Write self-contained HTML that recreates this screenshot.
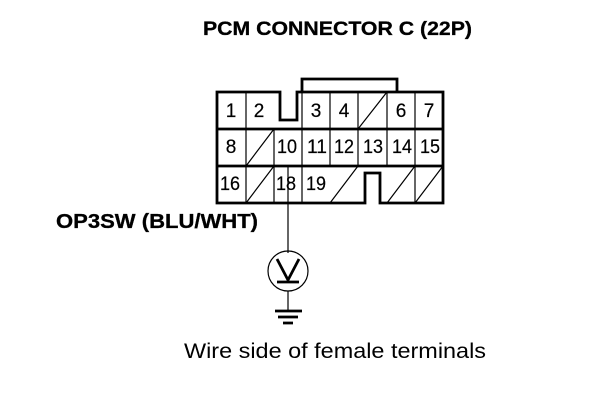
<!DOCTYPE html>
<html><head><meta charset="utf-8"><style>html,body{margin:0;padding:0;background:#fff}svg{display:block}</style></head>
<body><svg width="608" height="400" viewBox="0 0 608 400" xmlns="http://www.w3.org/2000/svg" font-family="'Liberation Sans',sans-serif" fill="#000">
<rect width="608" height="400" fill="#fff"/>
<g fill="none" stroke="#000" stroke-width="1.2">
<path d="M246 92V129M274 129V203M302 92V203M330 92V166M358 92V166M387 92V166M415 92V203M246 129V203" />
<path d="M246 166L274 129M246 203L274 166M358 129L387 92M330 203L358 166M387 203L415 166M415 203L443 166"/>
<path d="M288 166V253M288 291V311"/>
<circle cx="288" cy="271" r="20"/>
</g>
<g fill="none" stroke="#000" stroke-width="2.8">
<path d="M217 92H280V120H297V92H443V203H380V173H365V203H217Z"/>
<path d="M217 129H443M217 166H443"/>
<path d="M302 92V79H397V92"/>
<path d="M277 259L288 280L299 259M277 282H299"/>
<path d="M275 311H302M278 317H298M283 323H293"/>
</g>
<g font-size="19" text-anchor="middle" stroke="#000" stroke-width=".2" lengthAdjust="spacingAndGlyphs">
<text x="231" y="117">1</text><text x="259" y="117">2</text><text x="316" y="117">3</text><text x="344" y="117">4</text><text x="401" y="117">6</text><text x="429" y="117">7</text>
<text x="231" y="153">8</text>
<text x="287" y="153" textLength="20" lengthAdjust="spacingAndGlyphs">10</text><text x="317" y="153" textLength="20" lengthAdjust="spacingAndGlyphs">11</text><text x="344" y="153" textLength="20" lengthAdjust="spacingAndGlyphs">12</text><text x="373" y="153" textLength="20" lengthAdjust="spacingAndGlyphs">13</text><text x="402" y="153" textLength="20" lengthAdjust="spacingAndGlyphs">14</text><text x="430" y="153" textLength="20" lengthAdjust="spacingAndGlyphs">15</text>
<text x="230" y="190" textLength="20" lengthAdjust="spacingAndGlyphs">16</text><text x="286" y="190" textLength="20" lengthAdjust="spacingAndGlyphs">18</text><text x="316" y="190" textLength="20" lengthAdjust="spacingAndGlyphs">19</text>
</g>
<text x="203" y="35" font-size="19" font-weight="bold" stroke="#000" stroke-width=".3" textLength="269" lengthAdjust="spacingAndGlyphs">PCM CONNECTOR C (22P)</text>
<text x="56" y="228" font-size="20" font-weight="bold" stroke="#000" stroke-width=".3" textLength="202" lengthAdjust="spacingAndGlyphs">OP3SW (BLU/WHT)</text>
<text x="184" y="358" font-size="21" textLength="302" lengthAdjust="spacingAndGlyphs">Wire side of female terminals</text>
</svg></body></html>
